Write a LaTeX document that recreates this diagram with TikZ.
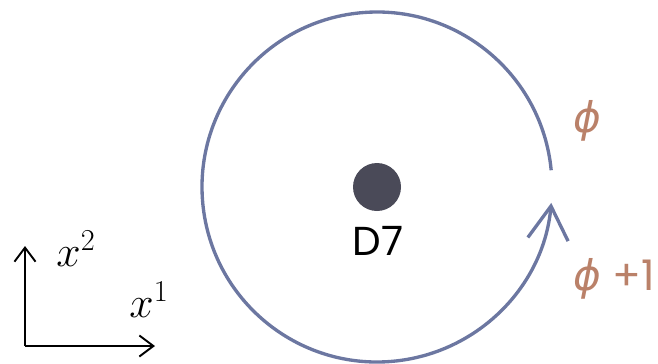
\documentclass[tikz,border=0pt]{standalone}
\usepackage{amssymb,amsfonts,amsmath}
\usepackage{fontspec}
\setmainfont{Poppins}
\newfontfamily\phifont{DejaVu Sans}
\usetikzlibrary{arrows.meta,calc}
\definecolor{loopblue}{HTML}{6C77A1}
\definecolor{phibrown}{HTML}{BA8169}
\definecolor{branegray}{HTML}{4A4A58}

\begin{document}
\begin{tikzpicture}[
    x=0.02cm, y=0.02cm,
    loop/.style={draw=loopblue, line width=1.9pt, -{Straight Barb[length=19pt, width=23pt, line width=1.9pt]}},
    axis/.style={draw=black, line width=1.1pt, -{Straight Barb[length=8pt, width=12pt, line width=1.1pt]}},
    brane/.style={circle, fill=branegray, minimum size=48*0.02cm, inner sep=0pt},
    lbl/.style={font=\fontsize{23}{27}\selectfont},
    philbl/.style={text=phibrown, font=\fontsize{24}{28}\selectfont},
    xlbl/.style={font=\fontsize{25}{30}\selectfont},
  ]
  \useasboundingbox (0,0) rectangle (658,363);

  % --- D7 brane ---
  \node[brane] (d7) at (377,176) {};
  \node[lbl] (d7name) at (378,122) {D7};

  % --- Loop round the brane ---
  \coordinate (start) at ($(d7)+(5.5:175)$);
  \draw[loop] (start) arc[start angle=5.5, end angle=354.8, radius=175];

  % --- Monodromy labels ---
  \node[philbl] (phi) at (587,242) {\phifont\itshape ϕ};
  \node[philbl] (phiplus) at (614,84) {{\phifont\itshape ϕ} +1};

  % --- Axes ---
  \coordinate (o) at (25,17);
  \coordinate (xone) at (155,17);
  \coordinate (xtwo) at (25,117);
  \draw[axis] (o) -- (xone);
  \draw[axis] (o) -- (xtwo);
  \node[xlbl] (xtwolbl) at (76,114) {$x^2$};
  \node[xlbl] (xonelbl) at (149,63) {$x^1$};

\end{tikzpicture}
\end{document}
